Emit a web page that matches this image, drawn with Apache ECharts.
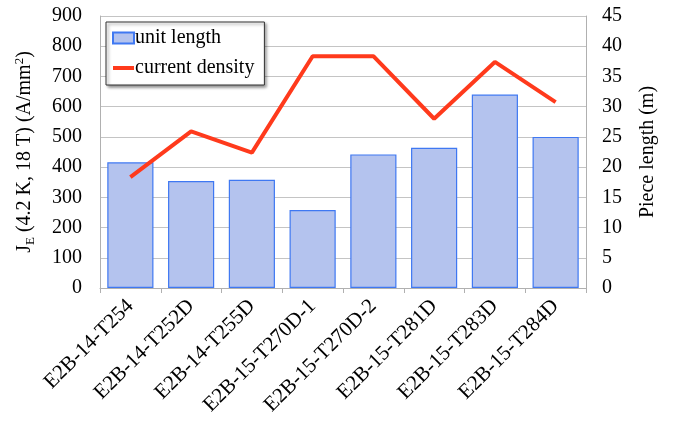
<!DOCTYPE html>
<html><head><meta charset="utf-8">
<script src="https://cdn.jsdelivr.net/npm/echarts@6/dist/echarts.min.js"></script>
<style>html,body{margin:0;padding:0;background:#fff}#c{width:681px;height:423px}</style>
</head><body><div id="c"></div>
<script>
const categories = ['E2B-14-T254','E2B-14-T252D','E2B-14-T255D','E2B-15-T270D-1','E2B-15-T270D-2','E2B-15-T281D','E2B-15-T283D','E2B-15-T284D'];
const unitLength = [20.8, 17.7, 17.9, 12.9, 22.1, 23.2, 32.0, 25.0];
const currentDensity = [367, 518, 448, 767, 767, 560, 748, 615];
const leftTicks = [0, 900, 100];
const rightTicks = [0, 45, 5];

const FONT = '"Liberation Serif", "DejaVu Serif", serif';
const chart = echarts.init(document.getElementById('c'), null, {renderer:'canvas'});
chart.setOption({
  animation: false,
  textStyle: {fontFamily: FONT, color: '#000'},
  grid: {left: 100, right: 95, top: 16, bottom: 135},
  legend: {
    orient: 'vertical', left: 106, top: 22,
    padding: [6, 10, 7, 6], itemGap: 10,
    itemWidth: 21, itemHeight: 11,
    symbolKeepAspect: true,
    borderColor: '#333', borderWidth: 1, backgroundColor: '#fff',
    shadowColor: 'rgba(0,0,0,0.45)', shadowBlur: 3, shadowOffsetX: 2, shadowOffsetY: 2,
    textStyle: {fontFamily: FONT, fontSize: 20, color: '#000', padding: [0,0,0,-4]},
    data: [
      {name: 'unit length', icon: 'rect'},
      {name: 'current density', icon: 'path://M0,0 L21,0 L21,4 L0,4 Z', itemStyle: {color: '#ff3a1c', borderWidth: 0}}
    ]
  },
  xAxis: {
    type: 'category', data: categories,
    axisLine: {lineStyle: {color: '#b0b0b0'}},
    axisTick: {show: true, length: 5, lineStyle: {color: '#b0b0b0'}},
    axisLabel: {rotate: 45, fontFamily: FONT, fontSize: 21, color: '#000', margin: 15, interval: 0}
  },
  yAxis: [{
    type: 'value', min: leftTicks[0], max: leftTicks[1], interval: leftTicks[2],
    name: 'J{sub|E} (4.2 K, 18 T) (A/mm{sup|2})',
    nameLocation: 'middle', nameGap: 63, nameRotate: 90,
    nameTextStyle: {fontFamily: FONT, fontSize: 20, color: '#000',
      rich: {sub: {fontFamily: FONT, fontSize: 13, padding: [12,0,0,0]}, sup: {fontFamily: FONT, fontSize: 13, padding: [0,0,10,0]}}},
    axisLine: {show: true, lineStyle: {color: '#b0b0b0'}},
    axisTick: {show: false},
    axisLabel: {fontFamily: FONT, fontSize: 20, color: '#000', margin: 18},
    splitLine: {lineStyle: {color: '#c4c4c4', width: 1}}
  }, {
    type: 'value', min: rightTicks[0], max: rightTicks[1], interval: rightTicks[2],
    name: 'Piece length (m)', nameLocation: 'middle', nameGap: 52, nameRotate: 90,
    nameTextStyle: {fontFamily: FONT, fontSize: 20, color: '#000'},
    axisLine: {show: true, lineStyle: {color: '#b0b0b0'}},
    axisTick: {show: false},
    axisLabel: {fontFamily: FONT, fontSize: 20, color: '#000', margin: 16},
    splitLine: {show: false}
  }],
  series: [{
    name: 'unit length', type: 'bar', yAxisIndex: 1, data: unitLength,
    barCategoryGap: '24%',
    itemStyle: {color: '#b4c3ee', borderColor: '#3f78f2', borderWidth: 1.2}
  }, {
    name: 'current density', type: 'line', yAxisIndex: 0, data: currentDensity,
    symbol: 'none', lineStyle: {color: '#ff3a1c', width: 4}, itemStyle: {color: '#ff3a1c'}
  }]
});
</script></body></html>
